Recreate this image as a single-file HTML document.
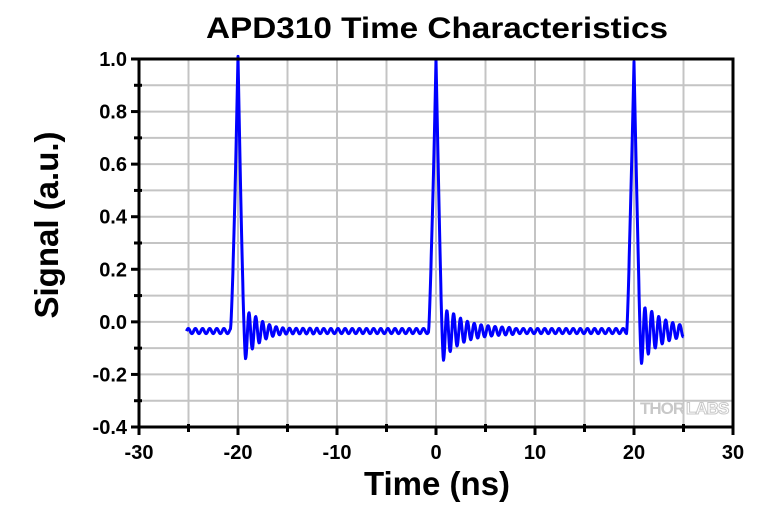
<!DOCTYPE html>
<html><head><meta charset="utf-8"><style>
body{margin:0;background:#fff;width:780px;height:511px;overflow:hidden}
text{font-family:"Liberation Sans",Arial,sans-serif;font-weight:bold;fill:#000}
</style></head><body>
<svg id="s" width="780" height="511" xmlns="http://www.w3.org/2000/svg">
<g id="grid" stroke="#c4c4c4" stroke-width="2"></g>
<polyline id="trace" fill="none" stroke="#0000ff" stroke-width="3" stroke-linejoin="round"/>
<text x="640" y="414" style="font-size:17px;fill:#c8c8c8;letter-spacing:-1px">THOR</text>
<text x="686" y="414" style="font-size:17px;fill:#fff;stroke:#c8c8c8;stroke-width:1;letter-spacing:-1px">LABS</text>
<g id="ax" stroke="#000" stroke-width="3" fill="none"></g>
<g id="lbl"></g>
<text x="437" y="38" text-anchor="middle" textLength="462" lengthAdjust="spacingAndGlyphs" style="font-size:30px">APD310 Time Characteristics</text>
<text x="437" y="495" text-anchor="middle" style="font-size:33px">Time (ns)</text>
<text transform="translate(58,225) rotate(-90)" text-anchor="middle" style="font-size:33px">Signal (a.u.)</text>
</svg>
<script>
var X0=139,X1=733,Y0=59,Y1=427;
function px(t){return X0+(t+30)/60*(X1-X0);}
function py(v){return Y1-(v+0.4)/1.4*(Y1-Y0);}
var ns="http://www.w3.org/2000/svg";
function el(p,n,a){var e=document.createElementNS(ns,n);for(var k in a)e.setAttribute(k,a[k]);p.appendChild(e);return e;}
var g=document.getElementById('grid'),ax=document.getElementById('ax'),lb=document.getElementById('lbl');
for(var t=-25;t<30;t+=5)el(g,'line',{x1:px(t),x2:px(t),y1:Y0,y2:Y1});
for(var i=-3;i<10;i++){var y=py(i/10);el(g,'line',{x1:X0,x2:X1,y1:y,y2:y});}
el(ax,'rect',{x:X0,y:Y0,width:X1-X0,height:Y1-Y0});
for(var t=-30;t<=30;t+=5){var maj=t%10==0;el(ax,'line',{x1:px(t),x2:px(t),y1:Y1-(maj?0:3),y2:Y1+(maj?8:5)});
 if(maj){var e=el(lb,'text',{x:px(t),y:459,'text-anchor':'middle',style:'font-size:20px'});e.textContent=t;}}
for(var i=-4;i<=10;i++){var y=py(i/10),maj=i%2==0;el(ax,'line',{x1:X0-(maj?8:5),x2:X0+(maj?0:3),y1:y,y2:y});
 if(maj){var e=el(lb,'text',{x:X0-12,y:y+7,'text-anchor':'end',style:'font-size:20px'});e.textContent=(i/10).toFixed(1);}}
var pts=[];
for(var t=-25.2;t<=25.01;t+=0.04){
 var v=-0.035+0.01*Math.sin(2*Math.PI*t/0.72);
 [-20,0,20].forEach(function(c){var d=t-c;
  if(d>-0.75&&d<=0)v+=1.035*Math.pow(1+d/0.75,1.3);
  else if(d>0&&d<0.75)v+=(1.035+0.115)*Math.pow(1-d/0.75,1.3)-0.115;
  else if(d>=0.75&&d<8){
   v+=-0.11*Math.exp(-(d-0.75)/2.0)*Math.cos(2*Math.PI*(d-0.75)/0.7)*(1-Math.exp(-(d-0.75)*8))-0.115*Math.exp(-(d-0.75)*8);}
 });
 pts.push(px(t).toFixed(1)+','+py(v).toFixed(1));}
document.getElementById('trace').setAttribute('points',pts.join(' '));
</script>
</body></html>
